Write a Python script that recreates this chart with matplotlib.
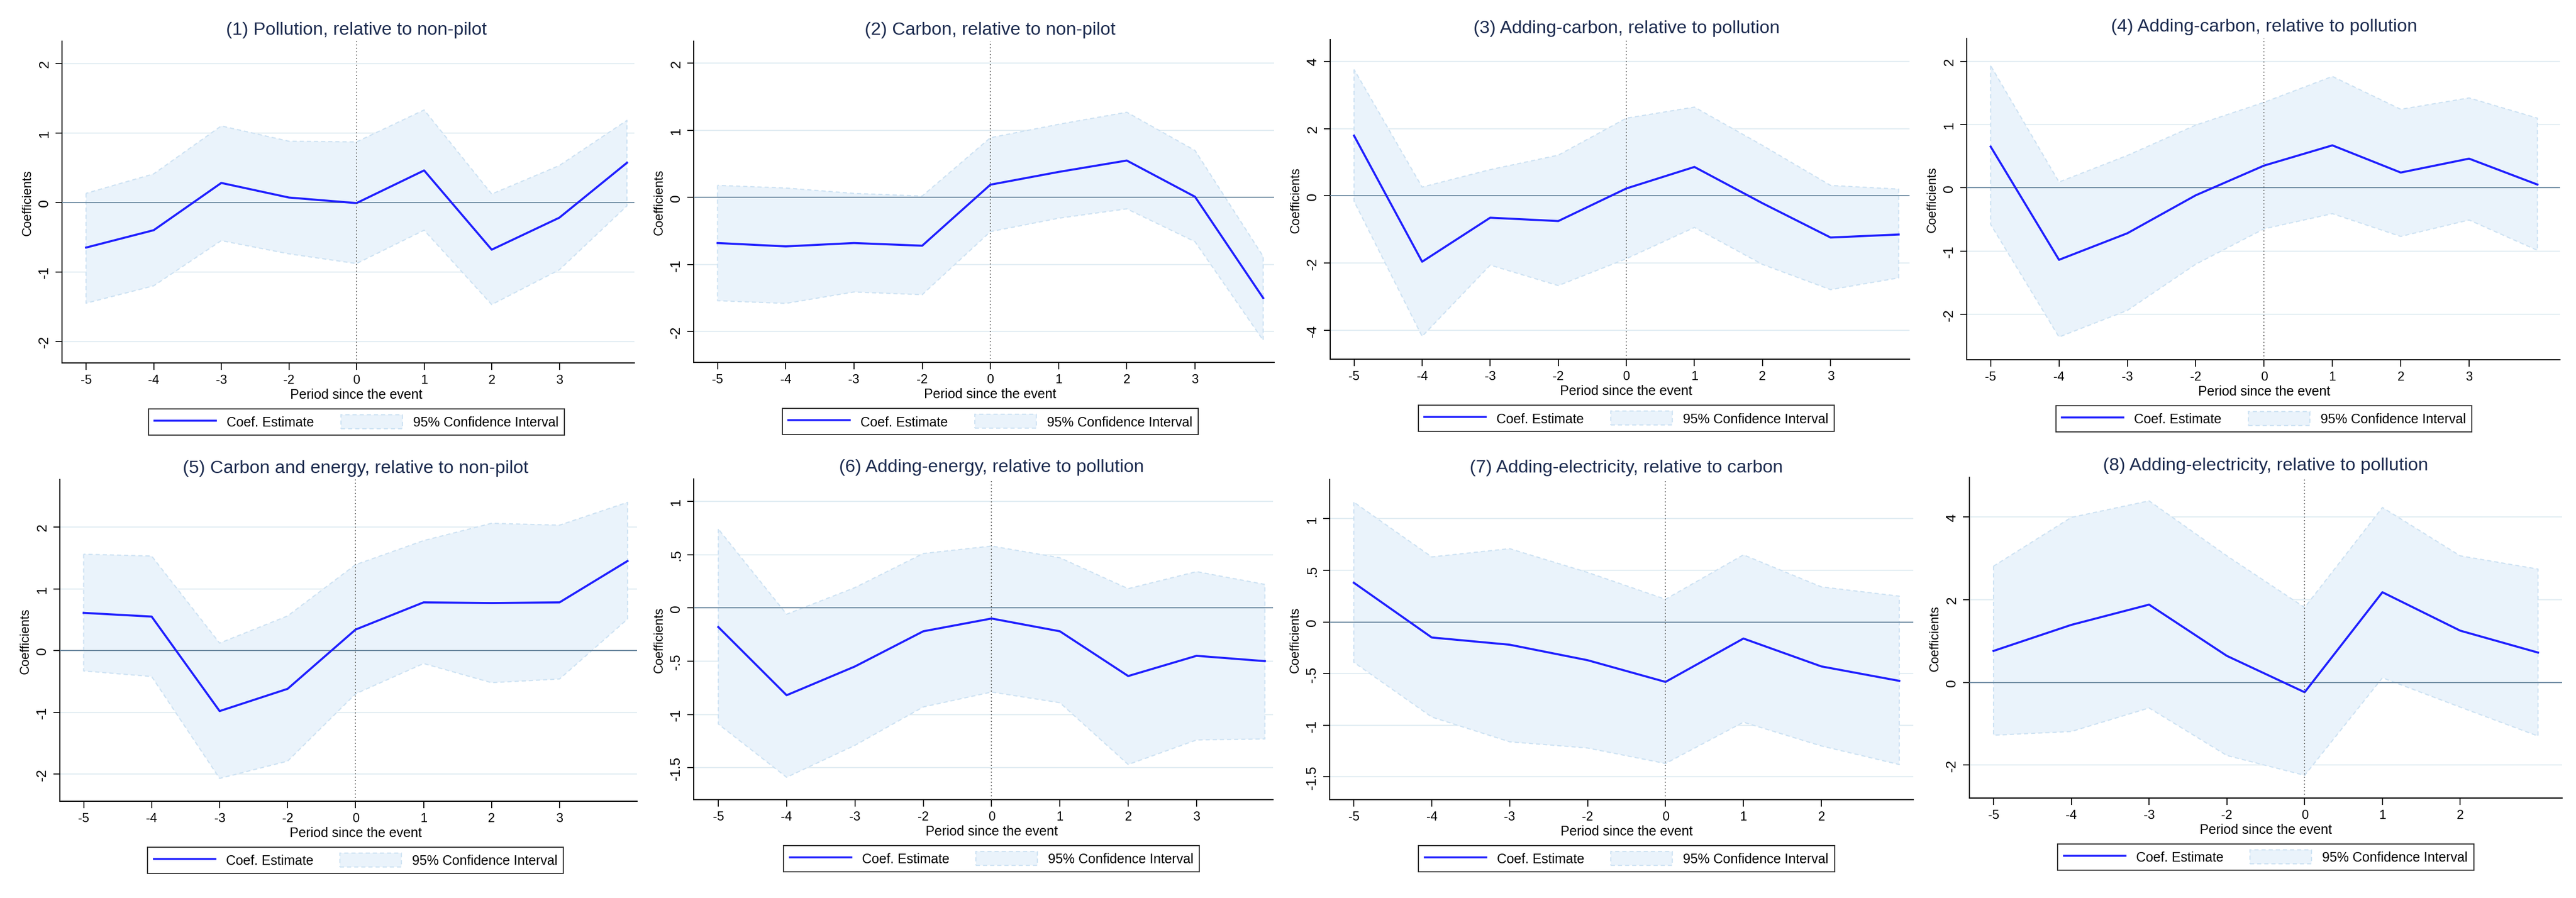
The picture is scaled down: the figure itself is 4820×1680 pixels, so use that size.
import matplotlib

matplotlib.use("Agg")
import matplotlib.pyplot as plt
from matplotlib.lines import Line2D
from matplotlib.patches import Patch

plt.rcParams["font.family"] = ["Liberation Sans", "DejaVu Sans"]

titles = [
    "(1) Pollution, relative to non-pilot",
    "(2) Carbon, relative to non-pilot",
    "(3) Adding-carbon, relative to pollution",
    "(4) Adding-carbon, relative to pollution",
    "(5) Carbon and energy, relative to non-pilot",
    "(6) Adding-energy, relative to pollution",
    "(7) Adding-electricity, relative to carbon",
    "(8) Adding-electricity, relative to pollution",
]

period_labels_long = ["-5", "-4", "-3", "-2", "0", "1", "2", "3"]
period_labels_short = ["-5", "-4", "-3", "-2", "0", "1", "2"]

coef = [
    [-0.65, -0.40, 0.28, 0.07, -0.01, 0.46, -0.68, -0.22, 0.57],
    [-0.68, -0.73, -0.68, -0.72, 0.19, 0.38, 0.55, 0.01, -1.50],
    [1.79, -1.96, -0.65, -0.75, 0.22, 0.86, -0.22, -1.24, -1.15],
    [0.65, -1.14, -0.72, -0.12, 0.35, 0.67, 0.24, 0.46, 0.05],
    [0.61, 0.55, -0.98, -0.62, 0.34, 0.78, 0.77, 0.78, 1.45],
    [-0.18, -0.82, -0.55, -0.22, -0.10, -0.22, -0.64, -0.45, -0.50],
    [0.38, -0.15, -0.22, -0.37, -0.58, -0.16, -0.43, -0.57],
    [0.76, 1.39, 1.88, 0.64, -0.24, 2.18, 1.25, 0.72],
]

ci_upper = [
    [0.13, 0.41, 1.10, 0.88, 0.87, 1.33, 0.12, 0.53, 1.18],
    [0.18, 0.14, 0.06, 0.02, 0.89, 1.09, 1.27, 0.70, -0.88],
    [3.76, 0.26, 0.78, 1.21, 2.31, 2.64, 1.50, 0.31, 0.20],
    [1.93, 0.09, 0.51, 0.99, 1.35, 1.76, 1.24, 1.42, 1.10],
    [1.56, 1.53, 0.12, 0.56, 1.39, 1.78, 2.06, 2.03, 2.40],
    [0.74, -0.06, 0.19, 0.51, 0.58, 0.47, 0.18, 0.34, 0.22],
    [1.16, 0.63, 0.71, 0.48, 0.22, 0.65, 0.34, 0.25],
    [2.81, 3.99, 4.39, 3.06, 1.81, 4.23, 3.06, 2.74],
]

ci_lower = [
    [-1.45, -1.20, -0.55, -0.74, -0.88, -0.40, -1.47, -0.97, -0.05],
    [-1.54, -1.58, -1.41, -1.45, -0.51, -0.31, -0.17, -0.66, -2.13],
    [-0.16, -4.18, -2.06, -2.67, -1.87, -0.94, -2.04, -2.79, -2.44],
    [-0.58, -2.36, -1.94, -1.21, -0.65, -0.41, -0.77, -0.51, -0.99],
    [-0.33, -0.42, -2.07, -1.79, -0.70, -0.21, -0.52, -0.46, 0.51],
    [-1.09, -1.59, -1.29, -0.93, -0.79, -0.89, -1.47, -1.24, -1.23],
    [-0.39, -0.92, -1.16, -1.22, -1.37, -0.97, -1.20, -1.38],
    [-1.28, -1.19, -0.62, -1.77, -2.25, 0.11, -0.60, -1.30],
]

yticks = [
    [-2, -1, 0, 1, 2],
    [-2, -1, 0, 1, 2],
    [-4, -2, 0, 2, 4],
    [-2, -1, 0, 1, 2],
    [-2, -1, 0, 1, 2],
    [-1.5, -1, -0.5, 0, 0.5, 1],
    [-1.5, -1, -0.5, 0, 0.5, 1],
    [-2, 0, 2, 4],
]
ytick_labels = [
    ["-2", "-1", "0", "1", "2"],
    ["-2", "-1", "0", "1", "2"],
    ["-4", "-2", "0", "2", "4"],
    ["-2", "-1", "0", "1", "2"],
    ["-2", "-1", "0", "1", "2"],
    ["-1.5", "-1", "-.5", "0", ".5", "1"],
    ["-1.5", "-1", "-.5", "0", ".5", "1"],
    ["-2", "0", "2", "4"],
]

# layout (pixels): left, top, right, bottom of each plot region
W, H = 4820, 1681
boxes = [
    (116, 78, 1187, 680),
    (1298, 78, 2384, 679),
    (2489, 75, 3573, 673),
    (3680, 73, 4790, 674),
    (112, 898, 1192, 1500),
    (1298, 897, 2382, 1497),
    (2488, 898, 3580, 1497),
    (3685, 894, 4794, 1494),
]
ylims = [(-2.31, 2.32), (-2.46, 2.33), (-4.86, 4.65), (-2.72, 2.36),
         (-2.44, 2.77), (-1.80, 1.21), (-1.72, 1.38), (-2.80, 4.96)]
xlims = [(-0.356, 8.11), (-0.35, 8.16), (-0.35, 8.16), (-0.35, 8.33),
         (-0.35, 8.14), (-0.36, 8.12), (-0.31, 7.18), (-0.31, 7.31)]

BLUE = "#1f1fff"
FILL = "#eaf3fb"
EDGE = "#cde2f3"
GRID = "#e2edf3"
ZERO = "#6d8aa1"
NAVY = "#1c2b4f"
DASH = (0, (3.5, 2.5))

fig = plt.figure(figsize=(W / 100, H / 100), dpi=100)

for i in range(8):
    l, t, r, b = boxes[i]
    ax = fig.add_axes([l / W, 1 - b / H, (r - l) / W, (b - t) / H])
    labels = period_labels_long if len(coef[i]) == 9 else period_labels_short
    x = list(range(len(coef[i])))

    for yv in yticks[i]:
        if yv != 0:
            ax.axhline(yv, color=GRID, lw=1.6, zorder=1)
    ax.fill_between(x, ci_lower[i], ci_upper[i], facecolor=FILL,
                    edgecolor=EDGE, linestyle=DASH, linewidth=1.6, zorder=2)
    ax.axhline(0, color=ZERO, lw=1.5, zorder=3)
    ax.plot(x, coef[i], color=BLUE, lw=2.8, zorder=4)
    ax.axvline(labels.index("0"), color="#555555", lw=1.3,
               linestyle=(0, (1, 2.5)), zorder=5)

    ax.set_xlim(*xlims[i])
    ax.set_ylim(*ylims[i])
    ax.set_xticks(range(len(labels)))
    ax.set_xticklabels(labels, fontsize=17)
    ax.set_yticks(yticks[i])
    ax.set_yticklabels(ytick_labels[i], fontsize=19, rotation=90, va="center")
    ax.tick_params(axis="x", length=9, width=1.3, pad=6)
    ax.tick_params(axis="y", length=9, width=1.3, pad=6)
    for side in ("top", "right"):
        ax.spines[side].set_visible(False)
    for side in ("left", "bottom"):
        ax.spines[side].set_linewidth(1.5)

    # titles, x title and legend are centred on the middle of the period range
    x0, x1 = xlims[i]
    cx = ((len(x) - 1) / 2 - x0) / (x1 - x0)

    ax.set_xlabel("Period since the event", fontsize=18)
    ax.xaxis.set_label_coords(cx, -47 / (b - t), transform=ax.transAxes)
    ax.xaxis.label.set_va("top")
    ax.set_ylabel("Coefficients", fontsize=17, labelpad=6)

    ax.text(cx, 1 + 22 / (b - t), titles[i], transform=ax.transAxes,
            ha="center", va="center", fontsize=24.5, color=NAVY)

    handles = [
        Line2D([], [], color=BLUE, lw=2.6),
        Patch(facecolor=FILL, edgecolor=EDGE, linestyle=DASH, lw=1.6),
    ]
    leg = ax.legend(handles, ["Coef. Estimate", "95% Confidence Interval"],
                    loc="upper center", bbox_to_anchor=(cx, -86 / (b - t)),
                    ncol=2, fontsize=18, frameon=True, fancybox=False,
                    edgecolor="black", handlelength=4.6, handleheight=1.2,
                    handletextpad=0.8, columnspacing=2.0, borderpad=0.45,
                    borderaxespad=0)
    leg.get_frame().set_linewidth(1.5)

fig.savefig("out.png", dpi=100, facecolor="white")
